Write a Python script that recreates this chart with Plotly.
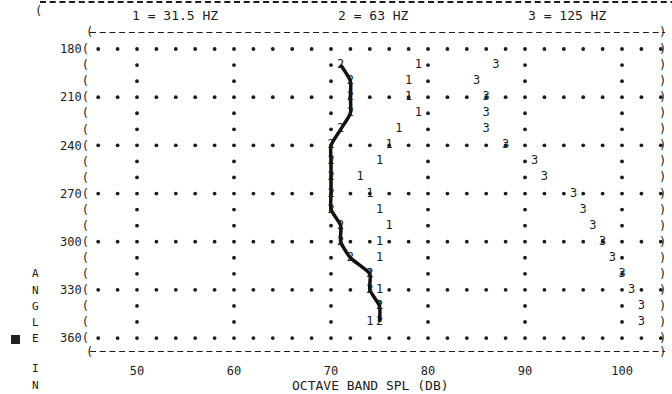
import numpy as np
import plotly.graph_objects as go

# ---- data ----
angles = [190, 200, 210, 220, 230, 240, 250, 260, 270, 280, 290, 300, 310, 320, 330, 340, 350]
spl_31_5 = [79, 78, 78, 79, 77, 76, 75, 73, 74, 75, 76, 75, 75, 74, 75, 75, 74]
spl_63 = [71, 72, 72, 72, 71, 70, 70, 70, 70, 70, 71, 71, 72, 74, 74, 75, 75]
spl_125 = [87, 85, 86, 86, 86, 88, 91, 92, 95, 96, 97, 98, 99, 100, 101, 102, 102]

x_ticks = [50, 60, 70, 80, 90, 100]
x_ticktext = ["50", "60", "70", "80", "90", "100"]
y_rows = list(range(180, 361, 10))
y_major = [180, 210, 240, 270, 300, 330, 360]
legend_text = ["1 = 31.5 HZ", "2 = 63 HZ", "3 = 125 HZ"]

W, H = 672, 394
L, R, T, B = 90, 4, 32, 42
X0, X1 = 45.155, 104.74
Y0, Y1 = 169.4, 368.7

FONT = "DejaVu Sans Mono"
INK = "#1c1c1c"


def px(x):
    return (x - L) / (W - L - R)


def py(y):
    return (H - B - y) / (H - T - B)


fig = go.Figure()

# dotted grid (printer dots)
gx, gy = [], []
for a in y_major:
    for v in np.arange(46, 105, 2):
        gx.append(v)
        gy.append(a)
for a in y_rows:
    if a in y_major:
        continue
    for v in x_ticks:
        gx.append(v)
        gy.append(a)
fig.add_trace(go.Scatter(x=gx, y=gy, mode="markers", hoverinfo="skip",
                         marker=dict(size=3.8, color=INK, symbol="circle"),
                         showlegend=False))

# series 2 : hand-drawn curve + symbols
fig.add_trace(go.Scatter(x=spl_63, y=angles, mode="lines+text", text=["2"] * len(angles),
                         textposition="middle center",
                         textfont=dict(family=FONT, size=12, color=INK),
                         line=dict(color="#111111", width=3.5, shape="spline", smoothing=0.6),
                         showlegend=False))
# series 1 and 3 : printed characters
fig.add_trace(go.Scatter(x=spl_31_5, y=angles, mode="text", text=["1"] * len(angles),
                         textfont=dict(family=FONT, size=12, color=INK), showlegend=False))
fig.add_trace(go.Scatter(x=spl_125, y=angles, mode="text", text=["3"] * len(angles),
                         textfont=dict(family=FONT, size=12, color=INK), showlegend=False))

# dashed frame lines
dash = "6px,3.7px"
for yy in [Y0, Y1]:
    fig.add_shape(type="line", xref="paper", yref="y", x0=0.0, x1=0.995, y0=yy, y1=yy,
                  line=dict(color=INK, width=2, dash=dash))
fig.add_shape(type="line", xref="paper", yref="paper", x0=px(40), x1=px(672), y0=py(2), y1=py(2),
              line=dict(color=INK, width=2, dash=dash))
# dark page mark at the left margin
fig.add_shape(type="rect", xref="paper", yref="paper", x0=px(11), x1=px(20), y0=py(344), y1=py(335),
              line=dict(width=0), fillcolor="#222222")

ann = []
# right-side ")" on each row, and dashed lines
for a in y_rows + [Y0, Y1]:
    ann.append(dict(x=1.0, xref="paper", y=a, yref="y", text=")", showarrow=False,
                    xanchor="right", font=dict(family=FONT, size=12, color=INK)))
for a in [Y0, Y1]:
    ann.append(dict(x=px(84), xref="paper", y=a, yref="y", text="(", showarrow=False,
                    xanchor="left", font=dict(family=FONT, size=12, color=INK)))
ann.append(dict(x=px(33), xref="paper", y=py(2), yref="paper", text="(", showarrow=False,
                xanchor="left", font=dict(family=FONT, size=12, color=INK)))

# top legend line
for txt, xp in zip(legend_text, [130, 336, 526]):
    ann.append(dict(x=px(xp), xref="paper", y=py(16), yref="paper", text=txt, showarrow=False,
                    xanchor="left", yanchor="middle", font=dict(family=FONT, size=13, color=INK)))

# vertical "ANGLE IN" letters
for ch, yp in zip("ANGLEIN", [273, 290, 306, 322, 338, 368, 385]):
    ann.append(dict(x=px(35), xref="paper", y=py(yp), yref="paper", text=ch, showarrow=False,
                    xanchor="center", yanchor="middle", font=dict(family=FONT, size=11, color=INK)))

# x axis title
ann.append(dict(x=px(370), xref="paper", y=py(385), yref="paper", text="OCTAVE BAND SPL (DB)",
                showarrow=False, xanchor="center", yanchor="middle",
                font=dict(family=FONT, size=13, color=INK)))

y_ticktext = [(f"{a}(" if a in y_major else "(") for a in y_rows]

fig.update_layout(
    width=W, height=H, margin=dict(l=L, r=R, t=T, b=B),
    paper_bgcolor="white", plot_bgcolor="white",
    annotations=ann, showlegend=False,
    xaxis=dict(range=[X0, X1], tickvals=x_ticks, ticktext=x_ticktext, showgrid=False,
               zeroline=False, showline=False, ticks="outside", ticklen=8,
               tickcolor="rgba(0,0,0,0)", tickfont=dict(family=FONT, size=12, color=INK)),
    yaxis=dict(range=[Y1, Y0], tickvals=y_rows, ticktext=y_ticktext, showgrid=False,
               zeroline=False, showline=False, ticks="", tickfont=dict(family=FONT, size=12, color=INK)),
)

fig.write_html("out.html")
